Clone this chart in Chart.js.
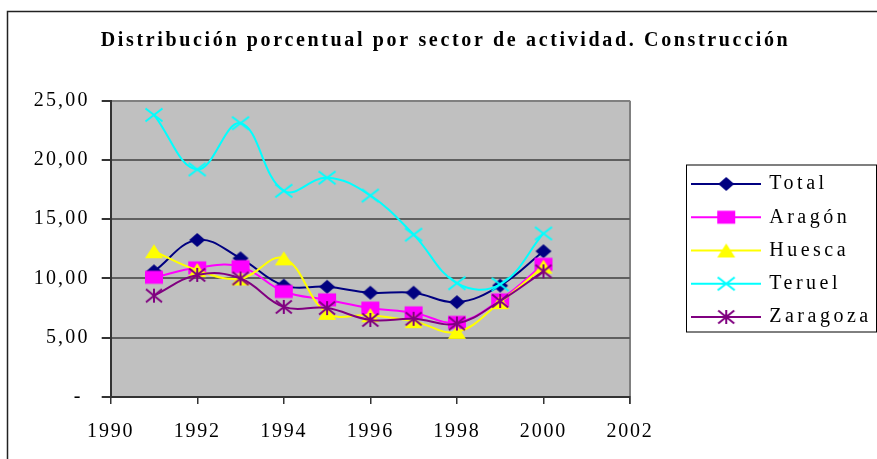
<!DOCTYPE html>
<html><head><meta charset="utf-8">
<script src="https://cdn.jsdelivr.net/npm/chart.js@4/dist/chart.umd.min.js"></script>
<style>html,body{margin:0;padding:0;background:#fff;overflow:hidden}#wrap{width:877px;height:459px;position:relative}</style>
</head><body><div id="wrap"><canvas id="c" width="877" height="459"></canvas></div>
<script>
const titleText = 'Distribución porcentual por sector de actividad. Construcción';
const years = [1991, 1992, 1993, 1994, 1995, 1996, 1997, 1998, 1999, 2000];
const seriesNames = ['Total', 'Aragón', 'Huesca', 'Teruel', 'Zaragoza'];
const total = [10.6, 13.25, 11.7, 9.4, 9.3, 8.8, 8.8, 8.0, 9.4, 12.3];
const aragon = [10.1, 10.9, 11.0, 8.9, 8.2, 7.5, 7.1, 6.3, 8.2, 11.2];
const huesca = [12.3, 10.7, 10.0, 11.7, 7.1, 6.9, 6.4, 5.5, 8.0, 11.0];
const teruel = [23.8, 19.2, 23.1, 17.4, 18.5, 17.0, 13.7, 9.6, 9.5, 13.8];
const zaragoza = [8.55, 10.3, 10.0, 7.6, 7.5, 6.5, 6.6, 6.2, 8.1, 10.6];
const xTickYears = [1990, 1992, 1994, 1996, 1998, 2000, 2002];
const yTickValues = [0, 5, 10, 15, 20, 25];

const seriesValues = [total, aragon, huesca, teruel, zaragoza];
const colors = ['#000080', '#FF00FF', '#FFFF00', '#00FFFF', '#800080'];
const shapes = ['diamond', 'square', 'triangle', 'cross', 'star'];
const FONT = "'Liberation Serif', 'Times New Roman', serif";

function drawMarker(ctx, shape, cx, cy, color) {
  ctx.fillStyle = color; ctx.strokeStyle = color; ctx.lineWidth = 2;
  ctx.beginPath();
  if (shape === 'diamond') {
    ctx.moveTo(cx - 8, cy); ctx.lineTo(cx, cy - 7); ctx.lineTo(cx + 8, cy); ctx.lineTo(cx, cy + 7); ctx.closePath(); ctx.fill();
  } else if (shape === 'square') {
    ctx.rect(cx - 9, cy - 6.5, 18, 13); ctx.fill();
  } else if (shape === 'triangle') {
    ctx.moveTo(cx, cy - 7); ctx.lineTo(cx + 9, cy + 7); ctx.lineTo(cx - 9, cy + 7); ctx.closePath(); ctx.fill();
  } else if (shape === 'cross') {
    ctx.moveTo(cx - 8.5, cy - 6.5); ctx.lineTo(cx + 8.5, cy + 6.5);
    ctx.moveTo(cx + 8.5, cy - 6.5); ctx.lineTo(cx - 8.5, cy + 6.5); ctx.stroke();
  } else if (shape === 'star') {
    ctx.moveTo(cx - 8, cy - 6.5); ctx.lineTo(cx + 8, cy + 6.5);
    ctx.moveTo(cx + 8, cy - 6.5); ctx.lineTo(cx - 8, cy + 6.5);
    ctx.moveTo(cx, cy - 7); ctx.lineTo(cx, cy + 7); ctx.stroke();
  }
}
function markerCanvas(shape, color) {
  const c = document.createElement('canvas'); c.width = 20; c.height = 16;
  drawMarker(c.getContext('2d'), shape, 10, 8, color); return c;
}
function legendIcon(shape, color) {
  const c = document.createElement('canvas'); c.width = 70; c.height = 16;
  const g = c.getContext('2d');
  g.strokeStyle = color; g.lineWidth = 2; g.beginPath(); g.moveTo(0, 8); g.lineTo(70, 8); g.stroke();
  drawMarker(g, shape, 35, 8, color); return c;
}

const datasets = seriesNames.map((name, i) => ({
  label: name,
  data: years.map((yr, j) => ({ x: yr, y: seriesValues[i][j] })),
  borderColor: colors[i],
  backgroundColor: colors[i],
  borderWidth: 2,
  tension: 0.4,
  pointStyle: markerCanvas(shapes[i], colors[i]),
  pointRadius: 6,
  order: 5 - i,
  clip: false
}));

const styler = {
  id: 'styler',
  beforeLayout(chart) {
    if (chart.$patched) return;
    chart.$patched = true;
    const ctx = chart.ctx;
    const wrap = (obj, name, ls, dx, dy, after) => {
      const orig = obj[name];
      obj[name] = function (...a) {
        ctx.save(); ctx.letterSpacing = ls; ctx.translate(dx || 0, dy || 0);
        orig.apply(this, a);
        if (after) after.call(this);
        ctx.restore();
      };
    };
    const lg = chart.legend;
    const origFit = lg.fit;
    lg.fit = function () { origFit.call(this); this.width = 247; };
    wrap(chart.titleBlock, 'draw', '2.65px', 0, 2);
    wrap(chart.scales.x, 'drawLabels', '1.8px');
    wrap(chart.scales.y, 'drawLabels', '2.2px');
    wrap(lg, 'draw', '3.5px', 50, 21, function () {
      const cy = (this.top + this.bottom) / 2 - 2;
      ctx.letterSpacing = '0px';
      ctx.strokeStyle = '#000'; ctx.lineWidth = 1;
      ctx.strokeRect(this.left + 6.5, cy - 83.5, 190, 167);
    });
  },
  beforeDraw(chart) {
    const ctx = chart.ctx, a = chart.chartArea;
    ctx.save();
    ctx.fillStyle = '#C0C0C0';
    ctx.fillRect(a.left, a.top, a.right - a.left, a.bottom - a.top);
    ctx.strokeStyle = '#222'; ctx.lineWidth = 1.5;
    ctx.beginPath(); ctx.moveTo(7.5, 470); ctx.lineTo(7.5, 11.5); ctx.lineTo(900, 11.5); ctx.stroke();
    ctx.strokeStyle = '#808080'; ctx.lineWidth = 2;
    ctx.beginPath(); ctx.moveTo(a.right, a.top); ctx.lineTo(a.right, a.bottom + 7); ctx.stroke();
    ctx.restore();
  }
};

new Chart(document.getElementById('c'), {
  type: 'line',
  data: { datasets },
  plugins: [styler],
  options: {
    responsive: false,
    animation: false,
    devicePixelRatio: 1,
    layout: { padding: { left: 14, right: 0, top: 0, bottom: 0 } },
    plugins: {
      tooltip: { enabled: false },
      title: {
        display: true, text: titleText, color: '#000',
        font: { family: FONT, size: 20, weight: 'bold', lineHeight: 1.2 },
        padding: { top: 27, bottom: 49.7 }
      },
      legend: {
        position: 'right',
        labels: {
          color: '#000',
          font: { family: FONT, size: 20, lineHeight: 1.2 },
          usePointStyle: true, pointStyleWidth: 66, boxHeight: 16,
          padding: 13.25,
          generateLabels: (chart) => seriesNames.map((n, i) => ({
            text: n, fillStyle: colors[i], strokeStyle: colors[i], lineWidth: 0,
            pointStyle: legendIcon(shapes[i], colors[i]), hidden: false, datasetIndex: i, fontColor: '#000'
          }))
        }
      }
    },
    scales: {
      x: {
        type: 'linear', min: xTickYears[0], max: xTickYears[xTickYears.length - 1],
        afterBuildTicks: (s) => { s.ticks = xTickYears.map(v => ({ value: v })); },
        afterFit: (s) => { s.height = 62; },
        ticks: { color: '#000', font: { family: FONT, size: 20 }, padding: 16, maxRotation: 0, autoSkip: false,
          callback: (v) => String(v) },
        grid: { drawOnChartArea: false, drawTicks: true, tickLength: 7, tickColor: '#333', lineWidth: 1.5 },
        border: { color: '#333', width: 2 }
      },
      y: {
        min: 0, max: 25,
        afterBuildTicks: (s) => { s.ticks = yTickValues.map(v => ({ value: v })); },
        afterFit: (s) => { s.width = 96.7; },
        ticks: { color: '#000', font: { family: FONT, size: 20 }, padding: 12,
          callback: (v) => v === 0 ? '- ' : v.toFixed(2).replace('.', ',') },
        grid: {
          color: (c) => c.tick && c.tick.value === 25 ? '#808080' : '#5f5f5f',
          lineWidth: 2, tickLength: 9, tickColor: '#333'
        },
        border: { color: '#333', width: 2 }
      }
    }
  }
});
</script></body></html>
